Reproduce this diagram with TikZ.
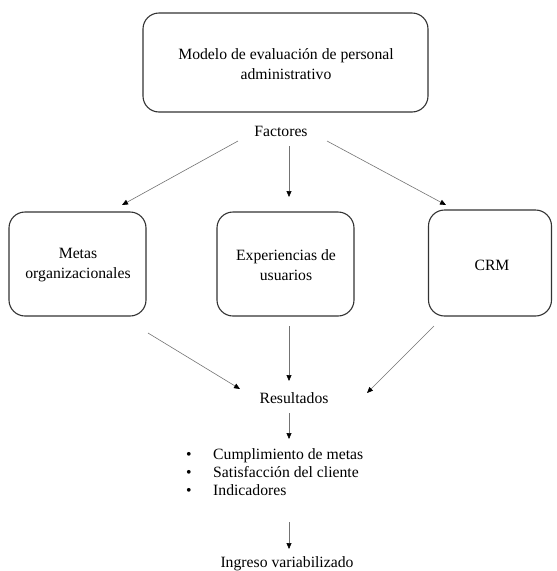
\documentclass[tikz,border=0pt]{standalone}
\usepackage{fontspec}
\setmainfont{Liberation Serif}
\usetikzlibrary{arrows.meta}
\begin{document}
\begin{tikzpicture}[x=1pt,y=-1pt,
  box/.style={draw=black!80,line width=1.1pt,rounded corners=16pt,inner sep=0pt},
  lbl/.style={align=center,font=\fontsize{15.7}{19.5}\selectfont,inner sep=0pt},
  conn/.style={draw=black!55,line width=0.6pt,-{Triangle[length=6pt,width=5pt,fill=black,color=black]}}]
\useasboundingbox (0,0) rectangle (557,571);
% boxes
\node[box,minimum width=285pt,minimum height=99pt] (top) at (285.5,62.5) {};
\node[lbl] (toptxt) at (286,64) {Modelo de evaluación de personal\\administrativo};
\node[box,minimum width=137pt,minimum height=104pt] (metas) at (77.5,264) {};
\node[lbl] at (78,265) {Metas\\organizacionales};
\node[box,minimum width=137pt,minimum height=104pt] (exp) at (285.5,264) {};
\node[lbl] at (286,265) {Experiencias de\\usuarios};
\node[box,minimum width=123pt,minimum height=106pt] (crm) at (490,263) {};
\node[lbl] at (492,265) {CRM};
% texts
\node[lbl] (fac) at (281,131) {Factores};
\node[lbl] (res) at (294,398) {Resultados};
\node[lbl,align=left,anchor=west,font=\fontsize{15.7}{18.3}\selectfont] (list) at (186,474) {%
  \begin{tabular}{@{}p{27pt}@{}l@{}}
  \textbullet & Cumplimiento de metas\\
  \textbullet & Satisfacción del cliente\\
  \textbullet & Indicadores
  \end{tabular}};
\node[lbl] (ing) at (287,564) {Ingreso variabilizado};
% coordinates
\coordinate (f1) at (238,141);
\coordinate (m1) at (122,205);
\coordinate (f2) at (289,146);
\coordinate (e1) at (289,197);
\coordinate (f3) at (327,141);
\coordinate (c1) at (446,205);
\coordinate (m2) at (148,333);
\coordinate (r1) at (240,389);
\coordinate (e2) at (289,326);
\coordinate (r2) at (289,381);
\coordinate (c2) at (434,326);
\coordinate (r3) at (367,393);
\coordinate (r4) at (289,413);
\coordinate (l1) at (289,439);
\coordinate (l2) at (289,522);
\coordinate (i1) at (289,549);
\draw[conn] (f1) -- (m1);
\draw[conn] (f2) -- (e1);
\draw[conn] (f3) -- (c1);
\draw[conn] (m2) -- (r1);
\draw[conn] (e2) -- (r2);
\draw[conn] (c2) -- (r3);
\draw[conn] (r4) -- (l1);
\draw[conn] (l2) -- (i1);
\end{tikzpicture}
\end{document}
